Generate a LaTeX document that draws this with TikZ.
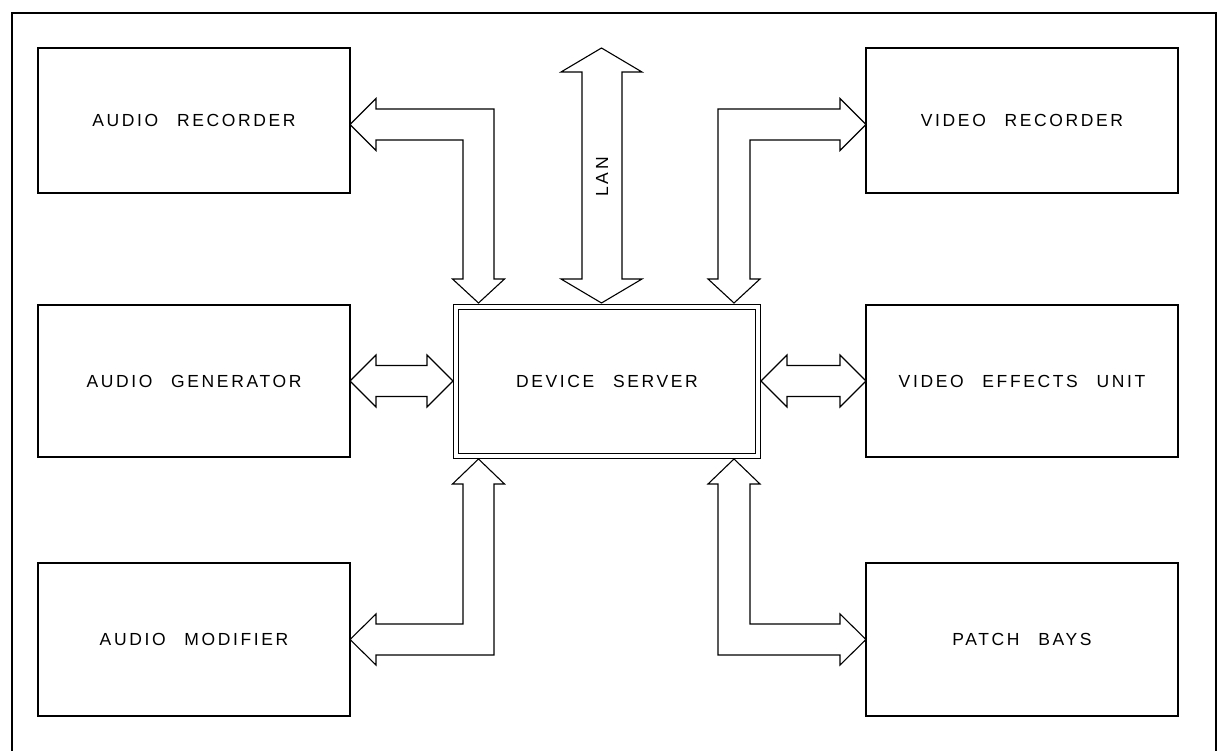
\documentclass[tikz,border=0pt]{standalone}
\usepackage{fontspec}
\newfontfamily\lblfont[LetterSpace=15,WordSpace=2.5]{Liberation Sans}
\begin{document}
\begin{tikzpicture}[x=1pt,y=-1pt,
  lbl/.style={font=\lblfont\fontsize{17.5}{20}\selectfont},
  box/.style={draw=black,line width=1.1pt,minimum width=312pt,minimum height=#1,inner sep=0pt,lbl},
  box/.default=145pt,
  blk/.style={draw=black,fill=white,line width=1.1pt,line join=miter},
  frame/.style={draw=black,line width=2pt}]
\useasboundingbox (0,0) rectangle (1219,751);
% outer frame (open at bottom)
\draw[frame] (12,751) -- (12,13) -- (1216,13) -- (1216,751);
% peripheral boxes
\node[box=145pt] (ar) at (194,120.5) {AUDIO RECORDER};
\node[box=152pt] (ag) at (194,381) {AUDIO GENERATOR};
\node[box=153pt] (am) at (194,639.5) {AUDIO MODIFIER};
\node[box=145pt] (vr) at (1022,120.5) {VIDEO RECORDER};
\node[box=152pt] (ve) at (1022,381) {VIDEO EFFECTS UNIT};
\node[box=153pt] (pb) at (1022,639.5) {PATCH BAYS};
% device server (double border)
\node[draw=black,line width=1.2pt,double,double distance=3.8pt,minimum width=302pt,minimum height=149pt,inner sep=0pt,lbl] (ds) at (607,381.5) {DEVICE SERVER};
% audio recorder <-> server
\draw[blk] (350,124.5) -- (376,98.5) -- (376,109) -- (494,109) -- (494,279) -- (504.5,279)
  -- (478.5,303) -- (452.5,279) -- (463,279) -- (463,140) -- (376,140) -- (376,150.5) -- cycle;
% audio generator <-> server
\draw[blk] (350,381) -- (376,355) -- (376,365.5) -- (427,365.5) -- (427,355) -- (453,381)
  -- (427,407) -- (427,396.5) -- (376,396.5) -- (376,407) -- cycle;
% audio modifier <-> server
\draw[blk] (478.5,459) -- (504.5,484) -- (494,484) -- (494,655) -- (376,655) -- (376,665)
  -- (350,639.5) -- (376,614) -- (376,624) -- (463,624) -- (463,484) -- (452.5,484) -- cycle;
% video recorder <-> server
\draw[blk] (866,124.5) -- (840,98.5) -- (840,109) -- (718,109) -- (718,279) -- (708,279)
  -- (734,303) -- (760,279) -- (750,279) -- (750,140) -- (840,140) -- (840,150.5) -- cycle;
% video effects <-> server
\draw[blk] (761,381) -- (787,355) -- (787,365.5) -- (840,365.5) -- (840,355) -- (866,381)
  -- (840,407) -- (840,396.5) -- (787,396.5) -- (787,407) -- cycle;
% patch bays <-> server
\draw[blk] (734,459) -- (760,484) -- (750,484) -- (750,624) -- (840,624) -- (840,614)
  -- (866,639.5) -- (840,665) -- (840,655) -- (718,655) -- (718,484) -- (708,484) -- cycle;
% LAN
\draw[blk] (601.5,48) -- (642,72) -- (622,72) -- (622,279) -- (642,279) -- (601.5,303)
  -- (561,279) -- (582,279) -- (582,72) -- (561,72) -- cycle;
\node[lbl,rotate=90,inner sep=0pt] (lan) at (602,177) {LAN};
\end{tikzpicture}
\end{document}
